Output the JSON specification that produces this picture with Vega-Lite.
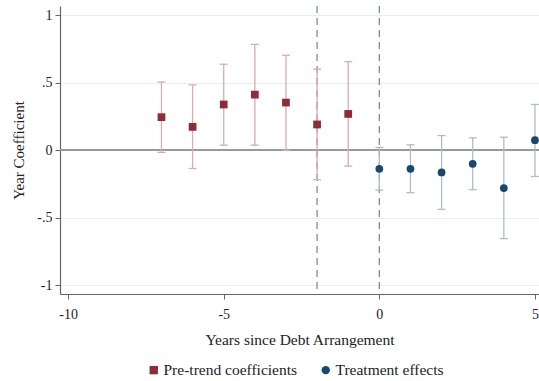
{
  "$schema": "https://vega.github.io/schema/vega-lite/v6.json",
  "autosize": "none",
  "width": 479,
  "height": 288,
  "padding": {"left": 60, "top": 6, "right": 0, "bottom": 87},
  "background": "white",
  "config": {
    "font": "Liberation Serif",
    "view": {"stroke": null},
    "axis": {"labelFont": "Liberation Serif", "titleFont": "Liberation Serif", "titleFontWeight": "normal", "labelColor": "#222", "titleColor": "#222", "domainColor": "#666", "tickColor": "#666"}
  },
  "data": {"values": [
    {"t": -7, "b": 0.244, "lo": -0.017, "hi": 0.505, "series": "Pre-trend coefficients"},
    {"t": -6, "b": 0.172, "lo": -0.136, "hi": 0.483, "series": "Pre-trend coefficients"},
    {"t": -5, "b": 0.338, "lo": 0.037, "hi": 0.636, "series": "Pre-trend coefficients"},
    {"t": -4, "b": 0.411, "lo": 0.037, "hi": 0.783, "series": "Pre-trend coefficients"},
    {"t": -3, "b": 0.352, "lo": -0.002, "hi": 0.702, "series": "Pre-trend coefficients"},
    {"t": -2, "b": 0.19, "lo": -0.219, "hi": 0.599, "series": "Pre-trend coefficients"},
    {"t": -1, "b": 0.268, "lo": -0.118, "hi": 0.655, "series": "Pre-trend coefficients"},
    {"t": 0, "b": -0.138, "lo": -0.296, "hi": 0.02, "series": "Treatment effects"},
    {"t": 1, "b": -0.138, "lo": -0.315, "hi": 0.039, "series": "Treatment effects"},
    {"t": 2, "b": -0.165, "lo": -0.439, "hi": 0.108, "series": "Treatment effects"},
    {"t": 3, "b": -0.101, "lo": -0.293, "hi": 0.091, "series": "Treatment effects"},
    {"t": 4, "b": -0.281, "lo": -0.655, "hi": 0.096, "series": "Treatment effects"},
    {"t": 5, "b": 0.074, "lo": -0.195, "hi": 0.338, "series": "Treatment effects"}
  ]},
  "layer": [
    {
      "mark": {"type": "rule", "color": "#999", "strokeWidth": 1.5},
      "encoding": {
        "y": {"datum": 0, "type": "quantitative", "scale": {"domain": [-1.065, 1.067], "nice": false, "zero": false},
          "axis": {"values": [-1, -0.5, 0, 0.5, 1], "labelExpr": "datum.value == 0 ? '0' : datum.value == 1 ? '1' : datum.value == -1 ? '-1' : datum.value == 0.5 ? '.5' : '-.5'", "title": "Year Coefficient", "titleFont": "Liberation Serif", "labelFont": "Liberation Serif", "titleFontSize": 15, "labelFontSize": 14, "grid": true, "gridColor": "#e6efef", "tickSize": 5, "labelPadding": 3, "titlePadding": 10, "domainWidth": 1.2}}
      }
    },
    {
      "data": {"values": [{"v": -2}, {"v": 0}]},
      "mark": {"type": "rule", "color": "#888", "strokeDash": [7, 5], "strokeWidth": 1.3},
      "encoding": {"x": {"field": "v", "type": "quantitative"}}
    },
    {
      "transform": [{"filter": "datum.series == 'Pre-trend coefficients'"}],
      "mark": {"type": "rule", "color": "#dcaab0", "strokeWidth": 1.3},
      "encoding": {"x": {"field": "t", "type": "quantitative"}, "y": {"field": "lo", "type": "quantitative"}, "y2": {"field": "hi"}}
    },
    {
      "transform": [{"filter": "datum.series == 'Treatment effects'"}],
      "mark": {"type": "rule", "color": "#aebccc", "strokeWidth": 1.3},
      "encoding": {"x": {"field": "t", "type": "quantitative"}, "y": {"field": "lo", "type": "quantitative"}, "y2": {"field": "hi"}}
    },
    {
      "transform": [{"filter": "datum.series == 'Pre-trend coefficients'"}, {"fold": ["lo", "hi"], "as": ["k", "ci"]}],
      "mark": {"type": "tick", "orient": "horizontal", "color": "#dcaab0", "size": 8, "thickness": 1.3, "opacity": 1},
      "encoding": {"x": {"field": "t", "type": "quantitative"}, "y": {"field": "ci", "type": "quantitative"}}
    },
    {
      "transform": [{"filter": "datum.series == 'Treatment effects'"}, {"fold": ["lo", "hi"], "as": ["k", "ci"]}],
      "mark": {"type": "tick", "orient": "horizontal", "color": "#aebccc", "size": 8, "thickness": 1.3, "opacity": 1},
      "encoding": {"x": {"field": "t", "type": "quantitative"}, "y": {"field": "ci", "type": "quantitative"}}
    },
    {
      "mark": {"type": "point", "filled": true, "opacity": 1},
      "encoding": {
        "x": {"field": "t", "type": "quantitative", "scale": {"domain": [-10.26, 5.13], "nice": false, "zero": false},
          "axis": {"values": [-10, -5, 0, 5], "labelExpr": "replace(datum.label, '\u2212', '-')", "title": "Years since Debt Arrangement", "titleFont": "Liberation Serif", "labelFont": "Liberation Serif", "titleFontSize": 15.5, "labelFontSize": 14, "grid": false, "tickSize": 5, "labelPadding": 8, "titlePadding": 11, "domainWidth": 1.2}},
        "y": {"field": "b", "type": "quantitative"},
        "color": {"field": "series", "type": "nominal", "scale": {"domain": ["Pre-trend coefficients", "Treatment effects"], "range": ["#8c2d37", "#1a476f"]},
          "legend": {"title": null, "orient": "none", "legendX": 86, "legendY": 356, "direction": "horizontal", "labelFontSize": 15.5, "labelFont": "Liberation Serif", "labelColor": "#222", "symbolSize": 70, "columnPadding": 20, "labelOffset": 2}},
        "shape": {"field": "series", "type": "nominal", "scale": {"domain": ["Pre-trend coefficients", "Treatment effects"], "range": ["square", "circle"]}, "legend": null},
        "size": {"value": 60}
      }
    }
  ]
}
